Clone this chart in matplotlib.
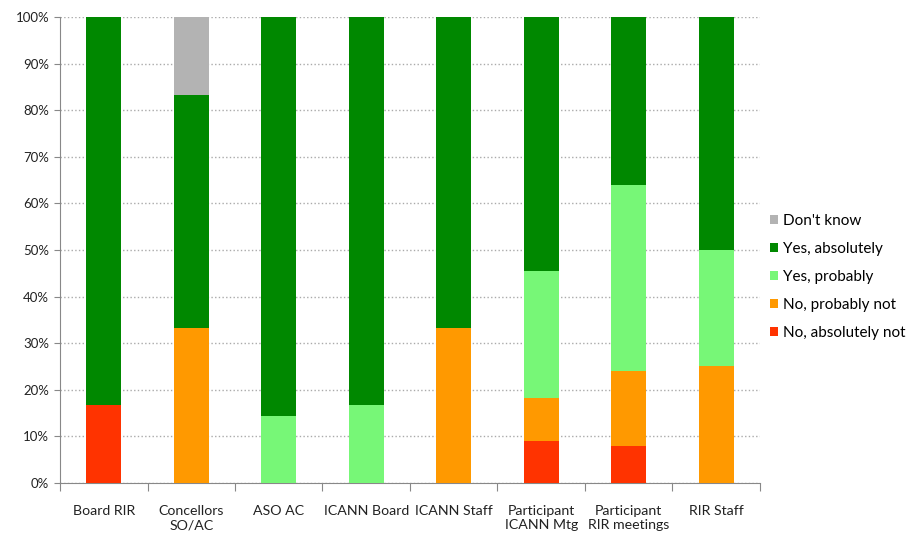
import matplotlib
matplotlib.use('Agg')
import matplotlib.pyplot as plt
import numpy as np

plt.rcParams['font.family'] = ['Lato', 'DejaVu Sans']

categories = ['Board RIR', 'Concellors\nSO/AC', 'ASO AC', 'ICANN Board', 'ICANN Staff',
              'Participant\nICANN Mtg', 'Participant\nRIR meetings', 'RIR Staff']

# porcentajes por respuesta (de abajo hacia arriba)
no_absolutely = [16.7, 0, 0, 0, 0, 9.1, 8.0, 0]
no_probably = [0, 33.3, 0, 0, 33.3, 9.1, 16.0, 25.0]
yes_probably = [0, 0, 14.3, 16.7, 0, 27.3, 40.0, 25.0]
yes_absolutely = [83.3, 50.0, 85.7, 83.3, 66.7, 54.5, 36.0, 50.0]
dont_know = [0, 16.7, 0, 0, 0, 0, 0, 0]

series = [
    ('No, absolutely not', no_absolutely, '#FF3300'),
    ('No, probably not', no_probably, '#FF9900'),
    ('Yes, probably', yes_probably, '#77F777'),
    ('Yes, absolutely', yes_absolutely, '#008800'),
    ("Don't know", dont_know, '#B3B3B3'),
]

fig = plt.figure(figsize=(9.11, 5.36), dpi=100)
ax = fig.add_axes([0.066, 0.099, 0.768, 0.869])

x = np.arange(len(categories))
bottom = np.zeros(len(categories))
handles = []
for label, vals, color in series:
    vals = np.array(vals)
    b = ax.bar(x, vals, 0.4, bottom=bottom, color=color, label=label, zorder=3)
    handles.append(b)
    bottom += vals

ax.set_xlim(-0.5, len(categories) - 0.5)
ax.set_ylim(0, 100)
ax.set_yticks(np.arange(0, 101, 10))
ax.set_yticklabels([f'{v}%' for v in range(0, 101, 10)], fontsize=9.5, color='#222222')
ax.yaxis.grid(True, linestyle=':', color='#AAAAAA', linewidth=1, zorder=0)

# marcas del eje x entre categorias
ax.set_xticks(np.arange(-0.5, len(categories), 1))
ax.set_xticklabels([])
ax.set_xticks(x, minor=True)
ax.set_xticklabels(categories, minor=True, fontsize=10.2, color='#222222')
ax.tick_params(axis='x', which='major', length=6, direction='out', color='#888888')
ax.tick_params(axis='x', which='minor', length=0, pad=16)
ax.tick_params(axis='y', length=4, direction='out', color='#888888', pad=4)

for s in ['top', 'right']:
    ax.spines[s].set_visible(False)
for s in ['left', 'bottom']:
    ax.spines[s].set_color('#888888')

ax.legend(handles[::-1], [s[0] for s in series[::-1]], loc='center left',
          bbox_to_anchor=(0.995, 0.442), frameon=False, fontsize=11,
          handlelength=0.55, handleheight=0.55, handletextpad=0.3, labelspacing=0.92)

plt.savefig('out.png', dpi=100)
plt.close()
